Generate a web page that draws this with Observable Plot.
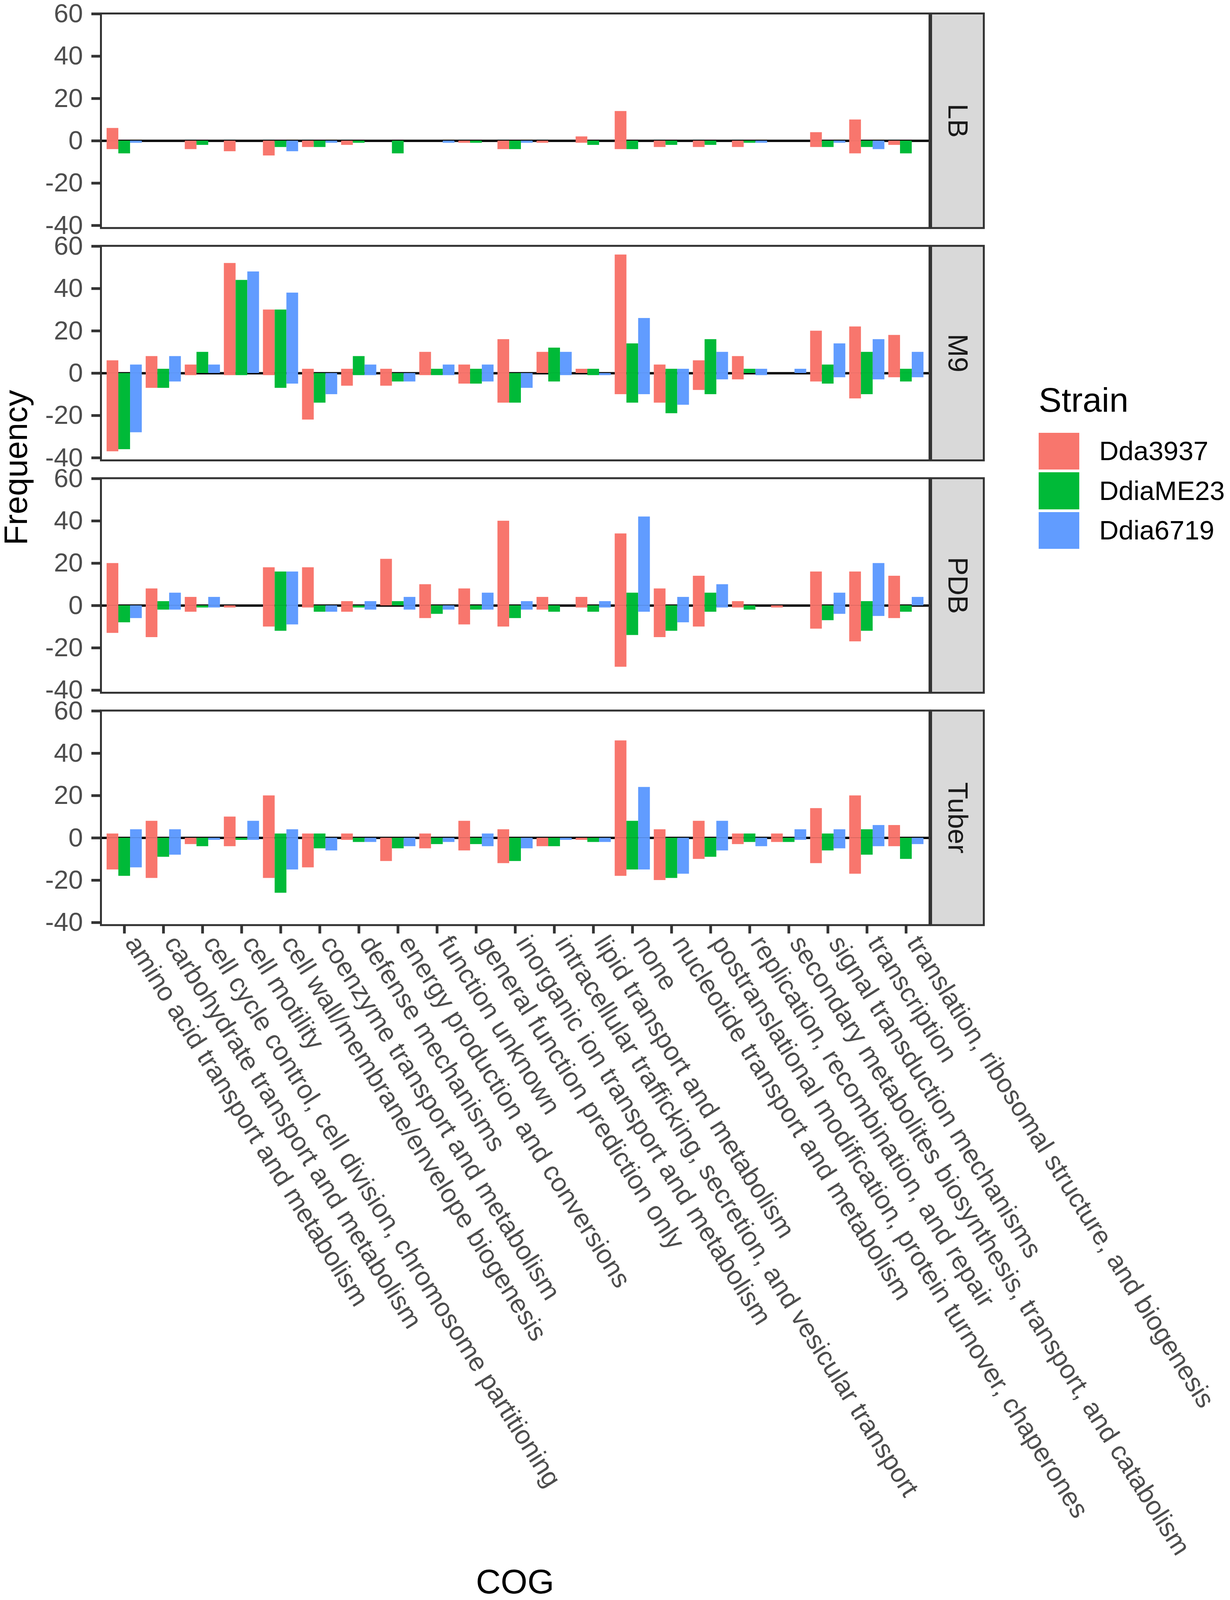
<!DOCTYPE html>
<html>
<head>
<meta charset="utf-8">
<script src="https://cdn.jsdelivr.net/npm/d3@7"></script>
<script src="https://cdn.jsdelivr.net/npm/@observablehq/plot@0.6"></script>
<style>
  html, body { margin: 0; padding: 0; background: #ffffff; overflow: hidden; }
  #wrap { position: relative; width: 3150px; font-family: "Liberation Sans", Arial, Helvetica, sans-serif; }
  #chart { position: absolute; left: 0; top: 0; }
  .abs { position: absolute; white-space: nowrap; line-height: 1; }
  #chart svg [aria-label="y-axis tick"], #chart svg [aria-label="x-axis tick"] { stroke: #333333; stroke-width: 7px; }
  #chart svg [aria-label="y-axis tick label"] { fill: #4D4D4D; }
</style>
</head>
<body>
<div id="wrap">
  <div id="chart"></div>
  <div id="ylab" class="abs">Frequency</div>
  <div id="xlab" class="abs">COG</div>
  <div id="legend"></div>
</div>
<script>
// ---------------- data ----------------
const categories = [
  "amino acid transport and metabolism",
  "carbohydrate transport and metabolism",
  "cell cycle control, cell division, chromosome partitioning",
  "cell motility",
  "cell wall/membrane/envelope biogenesis",
  "coenzyme transport and metabolism",
  "defense mechanisms",
  "energy production and conversions",
  "function unknown",
  "general function prediction only",
  "inorganic ion transport and metabolism",
  "intracellular trafficking, secretion, and vesicular transport",
  "lipid transport and metabolism",
  "none",
  "nucleotide transport and metabolism",
  "postranslational modification, protein turnover, chaperones",
  "replication, recombination, and repair",
  "secondary metabolites biosynthesis, transport, and catabolism",
  "signal transduction mechanisms",
  "transcription",
  "translation, ribosomal structure, and biogenesis"
];
const panels = ["LB", "M9", "PDB", "Tuber"];
const strains = ["Dda3937", "DdiaME23", "Ddia6719"];
const strainColors = ["#F8766D", "#00BA38", "#619CFF"];
const yTicks = [-40, -20, 0, 20, 40, 60];

// positive / negative frequencies, one value per category (order as in categories)
const LB_Dda3937_pos   = [6,0,0,0,0,0,0,0,0,0,0,0,2,14,0,0,0,0,4,10,0];
const LB_Dda3937_neg   = [-4,0,-4,-5,-7,-3,-2,0,0,-1,-4,-1,-1,-4,-3,-3,-3,0,-3,-6,-2];
const LB_DdiaME23_pos  = [0,0,0,0,0,0,0,0,0,0,0,0,0,0,0,0,0,0,0,0,0];
const LB_DdiaME23_neg  = [-6,0,-2,0,-3,-3,-1,-6,0,-1,-4,0,-2,-4,-2,-2,-1,0,-3,-3,-6];
const LB_Ddia6719_pos  = [0,0,0,0,0,0,0,0,0,0,0,0,0,0,0,0,0,0,0,0,0];
const LB_Ddia6719_neg  = [-1,0,0,0,-5,-1,0,0,-1,0,-1,0,0,0,0,0,-1,0,-1,-4,0];

const M9_Dda3937_pos   = [6,8,4,52,30,2,2,2,10,4,16,10,2,56,4,6,8,0,20,22,18];
const M9_Dda3937_neg   = [-37,-7,-1,-1,-1,-22,-6,-6,-1,-5,-14,0,0,-10,-14,-8,-3,0,-4,-12,-2];
const M9_DdiaME23_pos  = [0,2,10,44,30,0,8,0,2,2,0,12,2,14,2,16,2,0,4,10,2];
const M9_DdiaME23_neg  = [-36,-7,0,-1,-7,-14,-1,-4,-1,-5,-14,-4,-1,-14,-19,-10,0,0,-5,-10,-4];
const M9_Ddia6719_pos  = [4,8,4,48,38,0,4,0,4,4,0,10,0,26,2,10,2,2,14,16,10];
const M9_Ddia6719_neg  = [-28,-4,0,0,-5,-10,-1,-4,-1,-4,-7,-1,-1,-10,-15,-3,-1,0,-2,-3,-2];

const PDB_Dda3937_pos  = [20,8,4,0,18,18,2,22,10,8,40,4,4,34,8,14,2,0,16,16,14];
const PDB_Dda3937_neg  = [-13,-15,-3,-1,-10,-1,-3,0,-6,-9,-10,-2,-1,-29,-15,-10,-1,-1,-11,-17,-6];
const PDB_DdiaME23_pos = [0,2,0,0,16,0,0,2,0,0,0,0,0,6,0,6,0,0,0,2,0];
const PDB_DdiaME23_neg = [-8,-2,-1,0,-12,-3,-1,0,-4,-2,-6,-3,-3,-14,-12,-3,-2,0,-7,-12,-3];
const PDB_Ddia6719_pos = [0,6,4,0,16,0,2,4,0,6,2,0,2,42,4,10,0,0,6,20,4];
const PDB_Ddia6719_neg = [-6,-2,-1,0,-9,-3,-2,-2,-2,-2,-2,0,-1,-3,-8,-1,0,0,-4,-5,0];

const Tuber_Dda3937_pos  = [2,8,0,10,20,2,2,0,2,8,4,0,0,46,4,8,2,2,14,20,6];
const Tuber_Dda3937_neg  = [-15,-19,-3,-4,-19,-14,-1,-11,-5,-6,-12,-4,-1,-18,-20,-10,-3,-2,-12,-17,-4];
const Tuber_DdiaME23_pos = [0,0,0,0,2,2,0,0,0,0,0,0,0,8,0,0,2,0,2,4,0];
const Tuber_DdiaME23_neg = [-18,-9,-4,-1,-26,-5,-2,-5,-3,-3,-11,-4,-2,-15,-19,-9,-2,-2,-6,-8,-10];
const Tuber_Ddia6719_pos = [4,4,0,8,4,0,0,0,0,2,0,0,0,24,0,8,0,4,4,6,0];
const Tuber_Ddia6719_neg = [-14,-8,-1,-1,-15,-6,-2,-4,-2,-4,-5,-1,-2,-15,-17,-6,-4,-1,-5,-4,-3];

const series = {
  LB:    [[LB_Dda3937_pos, LB_Dda3937_neg], [LB_DdiaME23_pos, LB_DdiaME23_neg], [LB_Ddia6719_pos, LB_Ddia6719_neg]],
  M9:    [[M9_Dda3937_pos, M9_Dda3937_neg], [M9_DdiaME23_pos, M9_DdiaME23_neg], [M9_Ddia6719_pos, M9_Ddia6719_neg]],
  PDB:   [[PDB_Dda3937_pos, PDB_Dda3937_neg], [PDB_DdiaME23_pos, PDB_DdiaME23_neg], [PDB_Ddia6719_pos, PDB_Ddia6719_neg]],
  Tuber: [[Tuber_Dda3937_pos, Tuber_Dda3937_neg], [Tuber_DdiaME23_pos, Tuber_DdiaME23_neg], [Tuber_Ddia6719_pos, Tuber_Ddia6719_neg]]
};

// build table
const rows = [];
for (const p of panels) {
  series[p].forEach(([pos, neg], si) => {
    categories.forEach((c, i) => {
      if (pos[i] !== 0) rows.push({panel: p, cog: c, strain: strains[si], value: pos[i]});
      if (neg[i] !== 0) rows.push({panel: p, cog: c, strain: strains[si], value: neg[i]});
    });
  });
}

// ---------------- layout (fit the 3150 x 4477 design into the actual viewport height) ----------------
const W = 3150, H0 = 4477;
const H = (window.innerHeight && window.innerHeight > 1000) ? Math.min(window.innerHeight, H0) : H0;
const sy = H / H0;             // vertical fit factor
const sf = Math.sqrt(sy);      // font fit factor
document.getElementById("wrap").style.height = H + "px";

const mL = 258, mR = 770;
const mT = Math.max(29 * sy, 34);
const panelsBottom = 2588 * sy;
const mB = H - panelsBottom;
const innerW = W - mL - mR;
const padInner = 0.7, padOuter = 0.45;
const step = innerW / (categories.length - padInner + 2 * padOuter);
const barW = step * (1 - padInner);
const dodge = [-barW, 0, barW];

// rotated category labels: keep the reference geometry under the vertical fit
const labelAngle = Math.atan2(Math.sin(Math.PI / 3) * sy, Math.cos(Math.PI / 3)) * 180 / Math.PI;
const labelSize = 72 * Math.sqrt(0.25 + 0.75 * sy * sy);

const marks = [
  Plot.ruleY([0], {stroke: "#000000", strokeWidth: 6}),
  ...strains.map((s, si) =>
    Plot.barY(rows.filter(d => d.strain === s), {
      x: "cog", y1: () => 0, y2: "value", fy: "panel",
      fill: strainColors[si], dx: dodge[si]
    })
  ),
  Plot.frame({stroke: "#333333", strokeWidth: 5}),
  // facet strips
  Plot.frame({fill: "#D9D9D9", stroke: "#333333", strokeWidth: 5, insetLeft: innerW + 4, insetRight: -139}),
  Plot.text(panels, {fy: d => d, text: d => d, frameAnchor: "right", dx: 71, rotate: 90,
    fontSize: 74 * sf, fill: "#1A1A1A", textAnchor: "middle", lineAnchor: "middle"}),
  Plot.axisY(yTicks, {tickSize: 24, tickPadding: 22, tickFormat: d => String(d), fontSize: 70 * sf,
    stroke: "#333333", strokeWidth: 7, fill: "#4D4D4D", label: null}),
  Plot.axisX({tickSize: 24 * sy, tickFormat: () => "", stroke: "#333333", strokeWidth: 7, label: null}),
  Plot.text(categories, {x: d => d, fy: () => panels[panels.length - 1], text: d => d,
    frameAnchor: "bottom", dy: 50 * sy, rotate: labelAngle, textAnchor: "start", lineAnchor: "bottom",
    fontSize: labelSize, fill: "#4D4D4D"})
];

const chart = Plot.plot({
  width: W, height: H,
  marginLeft: mL, marginRight: mR, marginTop: mT, marginBottom: mB,
  style: {fontFamily: "Liberation Sans, Arial, Helvetica, sans-serif", background: "transparent", overflow: "visible"},
  x: {type: "band", domain: categories, paddingInner: padInner, paddingOuter: padOuter, align: 0.5, round: false},
  y: {domain: [-41.2, 60.2]},
  fy: {domain: panels, paddingInner: 50 / 652, paddingOuter: 0, round: false, axis: null},
  marks
});
document.getElementById("chart").appendChild(chart);

// ---------------- axis titles ----------------
const baseOff = 0.8465; // baseline offset (em) inside a line-height:1 box
const titleSize = 92 * sf;
const ylab = document.getElementById("ylab");
ylab.style.cssText += `font-size:${92 * sy}px;color:#000;width:800px;text-align:center;left:-360px;top:${1308 * sy - 46 * sy}px;transform:rotate(-90deg);`;
const xlab = document.getElementById("xlab");
const cogBaseline = Math.min(4471 * sy, H - 0.16 * titleSize - 2);
xlab.style.cssText += `font-size:${titleSize}px;color:#000;width:${innerW}px;text-align:center;left:${mL}px;top:${cogBaseline - baseOff * titleSize}px;`;

// ---------------- legend ----------------
const legend = document.getElementById("legend");
const title = document.createElement("div");
title.className = "abs";
title.style.cssText = `font-size:${titleSize}px;color:#000;left:2660px;top:${1153 * sy - baseOff * titleSize}px;`;
title.textContent = "Strain";
legend.appendChild(title);
const labSize = 72 * sf;
strains.forEach((s, i) => {
  const sw = document.createElement("div");
  sw.className = "abs";
  sw.style.cssText = `left:2660px;top:${(1211 + i * 111) * sy}px;width:104px;height:${103 * sy}px;background:${strainColors[i]};`;
  legend.appendChild(sw);
  const lb = document.createElement("div");
  lb.className = "abs";
  lb.style.cssText = `font-size:${labSize}px;color:#000;left:2815px;top:${(1289 + i * 111) * sy - baseOff * labSize}px;`;
  lb.textContent = s;
  legend.appendChild(lb);
});
</script>
</body>
</html>
